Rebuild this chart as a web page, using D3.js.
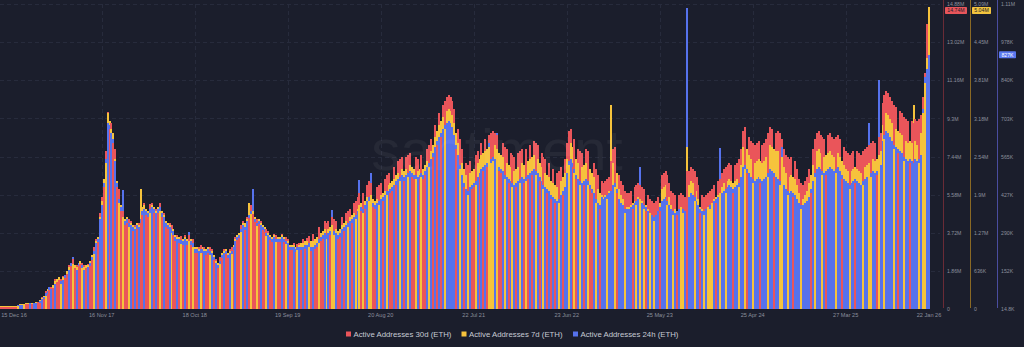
<!DOCTYPE html>
<html><head><meta charset="utf-8">
<script src="https://cdn.jsdelivr.net/npm/d3@7"></script>
<style>html,body{margin:0;padding:0;background:#1b1e2c;}svg{display:block;}</style>
</head><body><svg id="c" width="1024" height="347"></svg>
<script>
// ---------- DATA (weekly, first week below) ----------
const startDate = "2016-11-17";
// Active Addresses 30d (ETH), millions
const red30d = [
0.12,0.12,0.12,0.12,0.12,0.12,0.12,0.12,0.12,0.15,
0.20,0.20,0.24,0.24,0.24,0.29,0.24,0.29,0.29,0.34,
0.29,0.59,0.49,0.88,0.73,0.93,1.07,1.03,1.46,1.32,
1.42,1.46,1.61,1.51,1.71,2.15,2.10,2.44,2.00,2.15,
2.10,2.20,2.25,2.15,2.00,2.20,2.10,2.39,3.03,3.42,
3.27,4.69,5.47,5.96,7.72,9.62,8.79,9.08,8.11,7.81,
5.96,5.86,4.79,4.79,4.10,4.20,4.39,4.30,3.81,4.10,
3.91,4.20,4.20,4.59,5.18,4.59,4.49,5.13,5.18,4.69,
4.88,4.69,5.18,4.49,4.69,4.00,3.91,4.20,4.10,3.61,
3.32,3.61,3.22,3.56,3.13,3.61,3.13,3.61,3.13,3.42,
2.73,2.73,3.03,3.13,2.73,3.03,2.64,2.73,3.03,2.93,
2.39,2.44,2.00,2.54,2.49,2.93,2.69,2.49,2.93,3.03,
2.88,3.52,3.37,3.47,4.10,4.30,3.86,4.49,4.44,5.08,
4.64,4.25,4.39,4.15,4.30,3.86,3.76,3.91,3.81,3.37,
3.27,3.66,3.61,3.27,3.27,3.66,3.27,3.52,3.42,2.88,
2.88,3.22,2.78,3.17,3.22,2.88,3.42,2.93,3.47,3.56,
2.83,3.66,2.93,3.03,4.00,3.32,3.42,4.30,4.20,4.30,
3.61,4.49,4.39,4.30,3.42,3.52,4.49,3.81,4.69,4.79,
4.88,4.20,5.18,5.27,5.47,5.66,4.79,5.66,4.88,6.05,
6.25,6.15,4.98,4.88,5.96,6.05,6.15,5.27,6.35,6.54,
6.64,5.66,5.76,6.93,6.05,7.23,7.32,7.42,6.25,7.42,
7.52,7.62,6.45,6.35,7.42,7.32,6.35,7.52,6.35,6.54,
7.81,8.01,8.30,7.42,8.98,8.01,9.57,8.40,9.96,10.16,
10.35,10.45,10.35,10.16,9.77,7.81,8.79,8.30,7.81,5.96,
7.13,7.03,7.23,5.86,5.96,7.52,7.72,6.45,8.11,6.74,
8.30,6.93,8.50,8.59,8.69,8.59,8.50,6.74,6.64,8.11,
7.91,7.81,6.15,7.62,7.52,7.42,5.96,7.62,7.72,7.81,
6.15,7.81,6.35,8.01,6.54,8.20,8.11,8.01,6.25,7.62,
7.42,7.32,5.66,7.13,5.37,6.84,5.18,6.64,6.74,6.93,
5.57,7.32,8.11,8.69,8.79,6.93,8.30,6.35,7.81,7.72,
7.62,6.05,7.81,7.72,5.86,5.66,7.13,6.84,6.54,4.88,
6.25,6.15,6.25,6.35,6.45,7.23,7.81,7.91,5.66,6.54,
6.25,6.05,5.76,5.66,5.66,5.76,4.88,5.96,6.05,6.15,
6.05,5.96,5.86,4.79,5.57,5.37,5.27,5.18,5.27,5.47,
4.79,6.54,6.64,6.74,6.54,6.15,5.76,5.66,5.57,4.59,
5.57,5.66,5.57,5.47,6.74,6.74,6.93,6.84,6.74,6.45,
6.05,4.69,5.57,5.47,5.57,5.66,5.76,5.86,6.05,5.18,
6.25,6.35,6.64,6.84,6.93,7.03,7.13,7.03,5.66,7.03,
7.13,7.32,7.81,8.69,8.89,6.64,8.40,8.20,8.11,8.01,
8.11,8.20,6.15,8.01,8.11,8.30,8.59,8.89,8.79,6.45,
8.59,8.69,8.59,8.30,7.81,7.52,7.42,7.32,7.42,5.47,
7.23,6.84,6.35,6.15,6.05,6.25,6.45,6.84,5.66,7.81,
8.30,8.59,8.69,8.50,8.40,8.30,6.54,8.50,8.59,8.40,
8.30,8.40,8.50,8.30,6.35,7.91,7.72,7.62,7.52,7.62,
7.72,6.15,7.72,7.62,7.52,7.72,7.81,7.91,8.01,8.11,
8.20,8.11,6.54,8.40,8.59,10.06,10.45,10.64,10.55,10.35,
10.16,9.96,9.86,7.62,9.67,9.57,9.38,9.28,9.18,7.13,
9.18,9.08,9.28,9.18,9.28,9.47,10.35,11.52,13.92,14.74];
// Active Addresses 7d (ETH), millions
const yellow7d = [
0.05,0.05,0.05,0.05,0.05,0.05,0.05,0.05,0.05,0.05,
0.08,0.08,0.08,0.10,0.10,0.10,0.10,0.10,0.12,0.12,
0.15,0.18,0.22,0.22,0.33,0.37,0.37,0.40,0.47,0.50,
0.53,0.42,0.53,0.57,0.63,0.70,0.77,0.75,0.73,0.70,
0.77,0.80,0.68,0.70,0.73,0.73,0.80,0.90,0.92,1.14,
1.20,1.54,1.80,2.17,2.44,3.27,3.14,3.01,2.94,2.51,
2.14,1.77,1.74,1.54,1.50,1.54,1.37,1.44,1.40,1.37,
1.44,1.40,2.00,1.70,1.74,1.67,1.64,1.60,1.74,1.70,
1.64,1.70,1.64,1.64,1.57,1.47,1.44,1.40,1.27,1.34,
1.24,1.20,1.20,1.09,1.17,1.20,1.17,1.14,1.17,1.04,
1.04,1.04,1.00,0.94,1.04,1.00,1.00,1.04,0.90,0.97,
0.90,0.80,0.77,0.75,0.94,0.97,1.00,0.94,0.97,0.92,
1.07,1.17,1.24,1.27,1.29,1.44,1.44,1.50,1.77,1.59,
1.64,1.54,1.39,1.50,1.44,1.40,1.37,1.22,1.27,1.24,
1.20,1.24,1.12,1.20,1.20,1.24,1.20,1.09,1.14,1.07,
1.07,1.07,1.04,0.99,1.07,1.10,1.10,1.14,1.14,1.04,
1.14,1.14,1.17,1.20,1.10,1.27,1.30,1.34,1.17,1.34,
1.37,1.40,1.24,1.34,1.30,1.34,1.40,1.44,1.47,1.37,
1.54,1.57,1.60,1.50,1.67,1.74,1.77,1.60,1.80,1.87,
1.80,1.90,1.84,1.80,1.84,1.74,1.90,1.94,1.97,1.90,
2.07,2.10,2.14,2.17,2.24,2.27,2.14,2.34,2.30,2.34,
2.20,2.40,2.37,2.34,2.17,2.30,2.34,2.20,2.34,2.40,
2.47,2.37,2.64,2.74,2.87,2.97,3.07,3.14,3.21,3.01,
3.31,3.34,3.31,3.24,3.11,2.94,2.77,2.34,2.44,2.34,
2.24,1.90,2.27,2.30,2.34,2.07,2.44,2.51,2.57,2.61,
2.64,2.67,2.71,2.44,2.47,2.74,2.67,2.61,2.57,2.54,
2.17,2.44,2.40,2.37,2.04,2.30,2.34,2.37,2.10,2.44,
2.40,2.14,2.47,2.51,2.54,2.57,2.24,2.51,2.44,2.37,
2.00,2.27,2.24,2.20,2.14,2.10,2.07,2.04,1.77,2.14,
2.20,2.27,2.51,2.40,2.77,2.71,2.27,2.51,2.44,2.07,
2.37,2.40,2.44,2.07,2.34,2.27,2.20,1.77,2.00,1.94,
1.90,1.87,1.90,1.84,1.97,3.41,2.44,2.04,2.27,2.00,
1.90,1.84,1.60,1.70,1.70,1.74,1.77,1.80,1.74,1.87,
1.84,1.80,1.67,1.74,1.67,1.60,1.57,1.47,1.57,1.64,
1.77,2.00,2.04,2.07,1.74,1.87,1.74,1.57,1.67,1.64,
1.67,1.70,1.60,1.64,2.71,2.07,2.14,2.10,1.80,1.97,
1.84,1.70,1.67,1.57,1.67,1.70,1.67,1.77,1.84,1.87,
1.90,1.94,2.04,2.10,1.94,2.14,2.17,2.14,2.10,2.14,
2.17,2.04,2.40,2.71,2.34,2.67,2.57,2.51,2.10,2.44,
2.47,2.51,2.47,2.44,2.47,2.54,2.20,2.74,2.71,2.67,
2.64,2.64,2.07,2.54,2.37,2.27,1.90,2.20,2.24,2.20,
2.17,2.07,1.94,1.67,1.84,1.90,1.97,2.10,2.24,2.40,
2.20,2.64,2.67,2.61,2.24,2.54,2.57,2.61,2.64,2.57,
2.54,2.27,2.61,2.54,2.47,2.40,2.34,2.30,2.00,2.30,
2.34,2.37,2.34,2.30,2.27,2.07,2.37,2.40,2.44,2.20,
2.51,2.47,2.51,2.57,2.64,3.07,2.84,3.27,3.24,3.17,
3.11,2.67,3.01,2.97,2.94,2.91,2.47,2.81,2.77,2.81,
2.77,3.41,2.81,2.74,2.44,2.94,3.27,3.77,4.18,5.04];
// Active Addresses 24h (ETH), thousands
const blue24h = [
26,26,26,26,26,26,26,26,26,29,
29,29,33,33,33,36,33,36,36,40,
44,51,58,73,80,94,87,102,105,123,
130,116,120,138,152,155,181,203,174,155,
181,188,174,156,174,167,181,203,224,253,
268,340,391,470,557,687,680,651,629,550,
470,412,383,445,333,340,326,318,311,304,
318,311,340,369,376,369,362,376,383,376,
362,376,383,362,347,326,318,311,304,297,
275,268,268,264,260,268,260,293,260,253,
232,232,224,232,232,224,224,232,224,217,
203,181,174,188,210,217,224,210,217,224,
239,260,275,282,304,318,311,333,354,369,
448,340,326,333,318,311,304,289,282,275,
268,275,268,268,268,275,268,260,253,239,
239,239,232,239,239,239,239,246,246,253,
239,239,246,253,268,275,282,289,282,289,
297,372,297,289,282,289,304,311,318,326,
333,340,347,354,369,481,383,376,391,405,
419,506,398,391,398,405,412,419,427,441,
441,448,456,463,477,485,492,499,492,499,
506,513,506,499,499,492,499,506,499,513,
528,542,557,578,600,622,636,651,665,680,
687,694,687,672,643,607,571,535,499,470,
448,441,456,463,470,477,492,506,521,528,
535,542,615,557,564,557,651,528,521,513,
499,492,485,477,470,463,470,477,485,492,
485,492,499,506,513,521,513,506,492,477,
463,456,448,441,427,419,412,405,412,427,
441,456,506,550,557,542,521,499,485,477,
470,477,485,477,463,448,434,412,398,391,
419,412,419,427,434,441,463,470,448,412,
398,391,376,376,376,383,391,398,405,412,
528,398,391,383,369,362,354,347,354,369,
383,405,412,419,405,391,376,369,362,369,
376,383,376,369,1102,419,434,427,419,405,
391,376,369,369,376,383,391,398,405,412,
419,597,434,441,448,456,463,456,448,456,
463,470,492,528,535,521,506,492,485,477,
485,492,485,477,485,492,506,521,513,506,
492,485,477,600,463,448,441,434,441,434,
427,412,398,391,391,398,405,419,448,477,
506,521,528,521,513,506,513,521,528,521,
513,521,528,513,499,485,477,470,463,470,
477,485,477,470,463,477,485,492,687,506,
513,506,513,842,535,622,643,658,651,636,
622,607,600,593,586,578,564,557,550,557,
550,542,557,550,557,571,737,853,882,932];

const xTickDates = ["2016-12-15","2017-11-16","2018-10-18","2019-09-19","2020-08-20","2021-07-22","2022-06-23","2023-05-25","2024-04-25","2025-03-27","2026-01-22"];
const xTickLabels = ["15 Dec 16","16 Nov 17","18 Oct 18","19 Sep 19","20 Aug 20","22 Jul 21","23 Jun 22","25 May 23","25 Apr 24","27 Mar 25","22 Jan 26"];
const redTicks = [0,1.86,3.72,5.58,7.44,9.3,11.16,13.02,14.88];
const redTickLabels = ["0","1.86M","3.72M","5.58M","7.44M","9.3M","11.16M","13.02M","14.88M"];
const yellowTicks = [0,0.636,1.272,1.908,2.544,3.18,3.816,4.452,5.088];
const yellowTickLabels = ["0","636K","1.27M","1.9M","2.54M","3.18M","3.81M","4.45M","5.09M"];
const blueTicks = [14.8,152.4,290,427.6,565.2,702.8,840.4,978,1115.6];
const blueTickLabels = ["14.8K","152K","290K","427K","565K","703K","840K","978K","1.11M"];
const lastValueLabels = ["14.74M","5.04M","827K"];
const seriesNames = ["Active Addresses 30d (ETH)","Active Addresses 7d (ETH)","Active Addresses 24h (ETH)"];
const seriesColors = ["#ea555a","#f6c33c","#5672ec"];

// ---------- CHART ----------
const W = 1024, H = 347, plotTop = 4, plotBottom = 309;
const font = "'Liberation Sans', Arial, sans-serif";
const svg = d3.select("#c");
svg.append("rect").attr("width", W).attr("height", H).attr("fill", "#1b1e2c");

const parse = d3.utcParse("%Y-%m-%d");
const start = parse(startDate);
const n = Math.min(red30d.length, yellow7d.length, blue24h.length);
const dates = d3.range(n).map(i => d3.utcDay.offset(start, 7 * i));
const x = d3.scaleUtc().domain([dates[0], dates[n - 1]]).range([1, 929]);
const yR = d3.scaleLinear().domain([0, 14.88]).range([plotBottom, plotTop]);
const yY = d3.scaleLinear().domain([0, 5.088]).range([plotBottom, plotTop]);
const yB = d3.scaleLinear().domain([14.8, 1115.6]).range([plotBottom, plotTop]);

// grid
const grid = svg.append("g").attr("stroke", "#272b3c").attr("stroke-width", 1).attr("stroke-dasharray", "4,3").attr("shape-rendering", "crispEdges");
grid.selectAll("line.h").data(redTicks.slice(1)).join("line").attr("class", "h")
  .attr("x1", 0).attr("x2", 940).attr("y1", d => Math.round(yR(d)) + 0.5).attr("y2", d => Math.round(yR(d)) + 0.5);
const xt = xTickDates.map(parse);
grid.selectAll("line.v").data(xt.slice(1, -1)).join("line").attr("class", "v")
  .attr("x1", d => Math.round(x(d)) + 0.5).attr("x2", d => Math.round(x(d)) + 0.5).attr("y1", plotTop).attr("y2", plotBottom);

// bars: the three series share each weekly slot, taller bar drawn behind shorter ones
const series = [
  { vals: red30d, y: yR, color: seriesColors[0] },
  { vals: yellow7d, y: yY, color: seriesColors[1] },
  { vals: blue24h, y: yB, color: seriesColors[2] }];
const step = x(dates[1]) - x(dates[0]);
const flat = [];
for (let i = 0; i < n; i++) {
  const items = series.map((s, k) => ({ i, k, y: s.y(s.vals[i]) }));
  items.sort((a, b) => (a.y - b.y) || (b.k - a.k));
  flat.push(...items);
}
svg.append("g").attr("shape-rendering", "crispEdges")
  .selectAll("rect").data(flat).join("rect")
  .attr("x", d => Math.round(x(dates[d.i]) - step / 2))
  .attr("width", 2)
  .attr("y", d => d.y)
  .attr("height", d => plotBottom - d.y)
  .attr("fill", d => series[d.k].color);

// watermark
svg.append("text").attr("x", 497).attr("y", 170).attr("text-anchor", "middle")
  .attr("font-family", font).attr("font-size", 58).attr("fill", "#ffffff").attr("fill-opacity", 0.05)
  .text("santiment");

// x axis labels
const xa = svg.append("g").attr("font-family", font).attr("font-size", 5.6).attr("fill", "#8b8f9c");
xa.selectAll("text").data(xt).join("text")
  .attr("x", (d, i) => Math.max(x(d), 14)).attr("y", 316.5).attr("text-anchor", "middle")
  .text((d, i) => xTickLabels[i]);

// right axes
const axes = [
  { scale: yR, ticks: redTicks, labels: redTickLabels, lx: 943.5, line: "#6a2b36" },
  { scale: yY, ticks: yellowTicks, labels: yellowTickLabels, lx: 970.5, line: "#8a6924" },
  { scale: yB, ticks: blueTicks, labels: blueTickLabels, lx: 997.5, line: "#4a4da0" }];
axes.forEach(a => {
  svg.append("line").attr("x1", a.lx).attr("x2", a.lx).attr("y1", 0).attr("y2", plotBottom - 1)
    .attr("stroke", a.line).attr("stroke-width", 1);
  const g = svg.append("g").attr("transform", `translate(${a.lx + 1},0)`);
  const ax = d3.axisRight(a.scale).tickValues(a.ticks).tickFormat((d, i) => a.labels[i]).tickSize(0).tickPadding(2.5);
  g.call(ax);
  g.select(".domain").remove();
  g.selectAll("text").attr("font-family", font).attr("font-size", 5.2).attr("fill", "#8b8f9c");
});

// last value tags (kept just below the top tick labels so texts do not collide)
const lastVals = [red30d[n - 1], yellow7d[n - 1], blue24h[n - 1]];
const tags = [
  { x: 945, w: 22, y: yR(lastVals[0]), bg: "#e8555a", fg: "#1b1e2c" },
  { x: 972, w: 19, y: yY(lastVals[1]), bg: "#f3c43e", fg: "#1b1e2c" },
  { x: 999, w: 17, y: yB(lastVals[2]), bg: "#5a78f0", fg: "#ffffff" }];
tags.forEach((t, i) => {
  const ty = Math.max(t.y, 10.5);
  svg.append("rect").attr("x", t.x).attr("y", ty - 3.5).attr("width", t.w).attr("height", 7).attr("rx", 0.8).attr("fill", t.bg);
  svg.append("text").attr("x", t.x + t.w / 2).attr("y", ty + 1.8).attr("text-anchor", "middle")
    .attr("font-family", font).attr("font-size", 5.2).attr("fill", t.fg).text(lastValueLabels[i]);
});

// legend
const legX = [346, 461.5, 573];
const lg = svg.append("g").attr("font-family", font).attr("font-size", 7.8).attr("fill", "#c6cad3");
seriesNames.forEach((s, i) => {
  lg.append("rect").attr("x", legX[i]).attr("y", 331.5).attr("width", 5).attr("height", 5).attr("fill", seriesColors[i]);
  lg.append("text").attr("x", legX[i] + 7.5).attr("y", 336.5).text(s);
});
</script></body></html>
